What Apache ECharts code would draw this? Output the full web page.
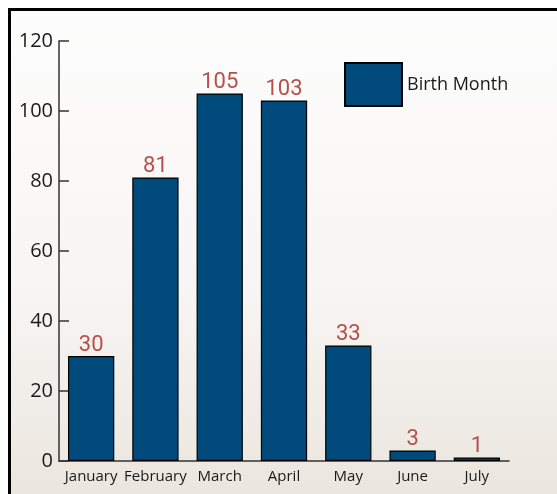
<!DOCTYPE html>
<html><head><meta charset="utf-8">
<script src="https://cdn.jsdelivr.net/npm/echarts@6/dist/echarts.min.js"></script>
<style>html,body{margin:0;padding:0;background:#fff}#c{width:557px;height:494px}</style>
</head><body><div id="c"></div>
<script>
var categories = ['January','February','March','April','May','June','July'];
var births = [30, 81, 105, 103, 33, 3, 1];
var yTicks = [0, 20, 40, 60, 80, 100, 120];
var seriesName = 'Birth Month';

var chart = echarts.init(document.getElementById('c'));
chart.setOption({
  animation: false,
  backgroundColor: '#ffffff',
  graphic: [{
    type: 'rect', z: -10, silent: true,
    shape: {x: 9.5, y: 9.5, width: 600, height: 600},
    style: {
      fill: new echarts.graphic.LinearGradient(0, 0, 0, 1, [
        {offset: 0, color: '#fdfdfd'},
        {offset: 0.45, color: '#f8f6f4'},
        {offset: 0.8, color: '#ebe6df'},
        {offset: 1, color: '#e7e1d9'}
      ]),
      stroke: '#000', lineWidth: 3
    }
  }],
  grid: {left: 59, right: 48, top: 41, bottom: 33, containLabel: false},
  legend: {
    left: 339, top: 57,
    itemWidth: 57, itemHeight: 43, itemGap: 8,
    icon: 'rect',
    textStyle: {fontFamily: 'Open Sans', fontSize: 18, color: '#1a1a1a'},
    data: [seriesName]
  },
  xAxis: {
    type: 'category', data: categories,
    axisLine: {lineStyle: {color: '#333', width: 1.5}},
    axisTick: {inside: true, length: 9, lineStyle: {color: '#333', width: 1.5}},
    axisLabel: {interval: 0, fontFamily: 'Open Sans', fontSize: 15, color: '#1a1a1a', margin: 8},
    splitLine: {show: false}
  },
  yAxis: {
    type: 'value', min: yTicks[0], max: yTicks[yTicks.length-1], interval: yTicks[1]-yTicks[0],
    axisLine: {show: true, lineStyle: {color: '#333', width: 1.5}},
    axisTick: {show: true, inside: true, length: 10, lineStyle: {color: '#333', width: 1.5}},
    axisLabel: {fontFamily: 'Open Sans', fontSize: 20, color: '#1a1a1a', margin: 6},
    splitLine: {show: false}
  },
  series: [{
    name: seriesName, type: 'bar', data: births,
    barWidth: '72%',
    itemStyle: {color: '#004b7b', borderColor: '#000', borderWidth: 1.2},
    label: {show: true, position: 'top', distance: 0,
      fontFamily: 'Roboto', fontSize: 22, color: '#b5504a'}
  }]
});
</script></body></html>
